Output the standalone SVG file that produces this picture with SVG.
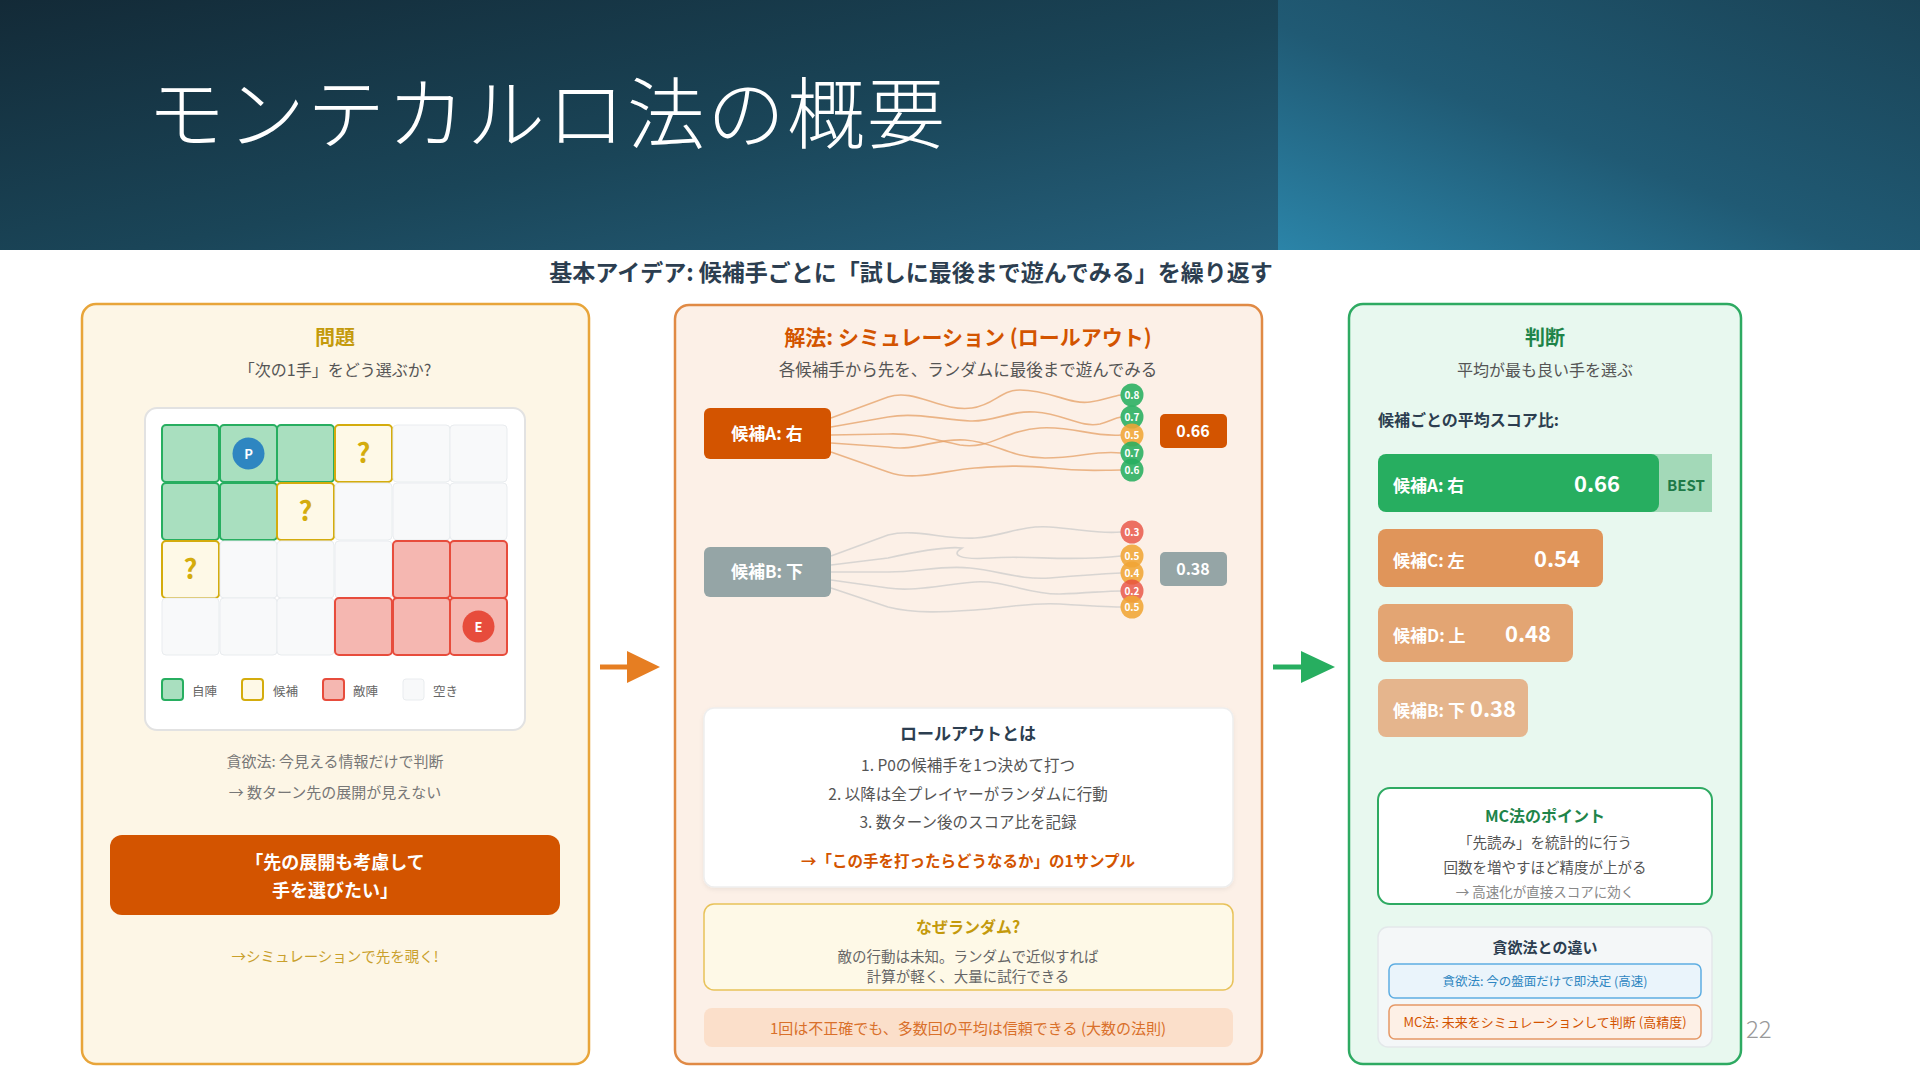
<svg xmlns="http://www.w3.org/2000/svg" width="1920" height="1080" viewBox="0 0 1920 1080">
<defs>
<linearGradient id="hdrL" x1="0" y1="0" x2="1" y2="1">
<stop offset="0" stop-color="#132a37"/>
<stop offset="0.55" stop-color="#1a4558"/>
<stop offset="1" stop-color="#25617d"/>
</linearGradient>
<linearGradient id="hdrR" x1="0" y1="1" x2="1" y2="0">
<stop offset="0" stop-color="#2b84a8"/>
<stop offset="0.45" stop-color="#205a74"/>
<stop offset="1" stop-color="#1a4356"/>
</linearGradient>
<filter id="sh" x="-5%" y="-5%" width="110%" height="115%">
<feDropShadow dx="0" dy="2" stdDeviation="2" flood-color="#000" flood-opacity="0.06"/>
</filter>
</defs>
<style>
text{font-family:"Noto Sans CJK JP","Noto Sans",sans-serif}
.c{text-anchor:middle}
.b{font-weight:700}
.g{fill:#555}
.wa{fill:none;stroke:#e6a066;stroke-width:1.6;opacity:.75}
.wb{fill:none;stroke:#c9c9c9;stroke-width:1.6;opacity:.7}
.ci{font-size:10px;font-weight:700;fill:#fff;text-anchor:middle}
.cg{fill:#27ae60;opacity:.88}
.co{fill:#f0a535;opacity:.88}
.cr{fill:#e74c3c;opacity:.78}
.own{fill:#a9dfbf;stroke:#27ae60;stroke-width:2}
.cand{fill:#fef9e7;stroke:#d4ac0d;stroke-width:2}
.enemy{fill:#f5b7b1;stroke:#e74c3c;stroke-width:2}
.empty{fill:#f8f9fa;stroke:#e9ecef;stroke-width:1}
.q{font-size:27px;font-weight:700;fill:#d4ac0d;text-anchor:middle}
.lg{font-size:12.5px;fill:#666}
.bl{font-size:17px;font-weight:700;fill:#fff}
.bv{font-size:22px;font-weight:700;fill:#fff;text-anchor:middle}
</style>

<rect x="0" y="0" width="1920" height="1080" fill="#ffffff"/>

<g id="header">
<rect x="0" y="0" width="1278" height="250" fill="url(#hdrL)"/>
<rect x="1278" y="0" width="642" height="250" fill="url(#hdrR)"/>
<text x="147" y="143" font-size="78" font-weight="300" fill="#ffffff" letter-spacing="2">モンテカルロ法の概要</text>
</g>

<text id="subtitle" x="911" y="281" class="c b" font-size="23" fill="#2c3e50">基本アイデア: 候補手ごとに「試しに最後まで遊んでみる」を繰り返す</text>

<g id="panel-problem">
<rect x="82" y="304" width="507" height="760" rx="14" fill="#fdf6e6" stroke="#e8a53a" stroke-width="2.5"/>
<text x="335" y="345" class="c b" font-size="20" fill="#c49a0c">問題</text>
<text x="335" y="376" class="c g" font-size="16">「次の1手」をどう選ぶか?</text>
<g id="board">
<rect x="145" y="408" width="380" height="322" rx="12" fill="#ffffff" stroke="#e2e2e2" stroke-width="2"/>
<rect x="162" y="425" width="57" height="57" rx="4" class="own"/>
<rect x="220" y="425" width="57" height="57" rx="4" class="own"/>
<rect x="277" y="425" width="57" height="57" rx="4" class="own"/>
<rect x="335" y="425" width="57" height="57" rx="4" class="cand"/>
<rect x="393" y="425" width="57" height="57" rx="4" class="empty"/>
<rect x="450" y="425" width="57" height="57" rx="4" class="empty"/>
<rect x="162" y="483" width="57" height="57" rx="4" class="own"/>
<rect x="220" y="483" width="57" height="57" rx="4" class="own"/>
<rect x="277" y="483" width="57" height="57" rx="4" class="cand"/>
<rect x="335" y="483" width="57" height="57" rx="4" class="empty"/>
<rect x="393" y="483" width="57" height="57" rx="4" class="empty"/>
<rect x="450" y="483" width="57" height="57" rx="4" class="empty"/>
<rect x="162" y="541" width="57" height="57" rx="4" class="cand"/>
<rect x="220" y="541" width="57" height="57" rx="4" class="empty"/>
<rect x="277" y="541" width="57" height="57" rx="4" class="empty"/>
<rect x="335" y="541" width="57" height="57" rx="4" class="empty"/>
<rect x="393" y="541" width="57" height="57" rx="4" class="enemy"/>
<rect x="450" y="541" width="57" height="57" rx="4" class="enemy"/>
<rect x="162" y="598" width="57" height="57" rx="4" class="empty"/>
<rect x="220" y="598" width="57" height="57" rx="4" class="empty"/>
<rect x="277" y="598" width="57" height="57" rx="4" class="empty"/>
<rect x="335" y="598" width="57" height="57" rx="4" class="enemy"/>
<rect x="393" y="598" width="57" height="57" rx="4" class="enemy"/>
<rect x="450" y="598" width="57" height="57" rx="4" class="enemy"/>
<text x="363.5" y="463" class="q">?</text>
<text x="305.5" y="521" class="q">?</text>
<text x="190.5" y="579" class="q">?</text>
<circle cx="248.5" cy="453.5" r="16" fill="#2e86c1"/>
<text x="248.5" y="458.5" class="c b" font-size="13" fill="#fff">P</text>
<circle cx="478.5" cy="626.5" r="16" fill="#e74c3c"/>
<text x="478.5" y="631.5" class="c b" font-size="13" fill="#fff">E</text>
<rect x="162" y="679" width="21" height="21" rx="3" class="own" stroke-width="1.5"/>
<text x="192" y="696" class="lg">自陣</text>
<rect x="242" y="679" width="21" height="21" rx="3" class="cand" stroke-width="1.5"/>
<text x="273" y="696" class="lg">候補</text>
<rect x="323" y="679" width="21" height="21" rx="3" class="enemy" stroke-width="1.5"/>
<text x="353" y="696" class="lg">敵陣</text>
<rect x="403" y="679" width="21" height="21" rx="3" class="empty"/>
<text x="433" y="696" class="lg">空き</text>
</g>
<text x="335" y="767" class="c" font-size="15" fill="#777">貪欲法: 今見える情報だけで判断</text>
<text x="335" y="798" class="c" font-size="15" fill="#777">→ 数ターン先の展開が見えない</text>
<rect x="110" y="835" width="450" height="80" rx="12" fill="#d35400"/>
<text x="335" y="869" class="c b" font-size="18" fill="#fff">「先の展開も考慮して</text>
<text x="335" y="897" class="c b" font-size="18" fill="#fff">手を選びたい」</text>
<text x="335" y="962" class="c" font-size="14.5" fill="#c9a02c">→シミュレーションで先を覗く!</text>
</g>

<g id="connectors">
<line x1="600" y1="667" x2="632" y2="667" stroke="#e67e22" stroke-width="5"/>
<polygon points="627,651 660,667 627,683" fill="#e67e22"/>
<line x1="1273" y1="667" x2="1305" y2="667" stroke="#27ae60" stroke-width="5"/>
<polygon points="1301,651 1335,667 1301,683" fill="#27ae60"/>
</g>

<g id="panel-solution">
<rect x="675" y="305" width="587" height="759" rx="14" fill="#fcf0e7" stroke="#e08a45" stroke-width="2.5"/>
<text x="968" y="345" class="c b" font-size="21" fill="#d35400">解法: シミュレーション (ロールアウト)</text>
<text x="968" y="376" class="c g" font-size="16.5">各候補手から先を、ランダムに最後まで遊んでみる</text>
<g id="rollout-A">
<path class="wa" d="M831,418 L888,397 C915,388 940,412 972,408 C995,405 1000,390 1020,390 C1050,390 1070,405 1090,402 C1105,400 1112,396 1121,395"/>
<path class="wa" d="M831,427 L888,417 C915,412 945,420 970,421 C995,422 1010,410 1035,412 C1065,414 1080,428 1100,424 C1110,421 1115,418 1121,417"/>
<path class="wa" d="M831,435 L888,434 C915,433 935,440 960,445 C990,450 1005,430 1040,428 C1075,426 1090,437 1121,435"/>
<path class="wa" d="M831,443 L888,447 C915,452 935,438 965,440 C995,442 1010,458 1045,458 C1080,458 1095,450 1121,453"/>
<path class="wa" d="M831,452 L888,472 C915,482 945,470 975,468 C1005,466 1020,465 1050,468 C1085,472 1100,470 1121,470"/>
<rect x="704" y="408" width="127" height="51" rx="6" fill="#d35400"/>
<text x="767" y="440" class="c b" font-size="17" fill="#fff">候補A: 右</text>
<circle cx="1132" cy="395" r="11.5" class="cg"/><text x="1132" y="399" class="ci">0.8</text>
<circle cx="1132" cy="417" r="11.5" class="cg"/><text x="1132" y="421" class="ci">0.7</text>
<circle cx="1132" cy="435" r="11.5" class="co"/><text x="1132" y="439" class="ci">0.5</text>
<circle cx="1132" cy="453" r="11.5" class="cg"/><text x="1132" y="457" class="ci">0.7</text>
<circle cx="1132" cy="470" r="11.5" class="cg"/><text x="1132" y="474" class="ci">0.6</text>
<rect x="1160" y="414" width="67" height="34" rx="5" fill="#d35400"/>
<text x="1193" y="437" class="c b" font-size="16" fill="#fff">0.66</text>
</g>
<g id="rollout-B">
<path class="wb" d="M831,556 L888,535 C915,528 945,540 975,538 C1005,536 1020,525 1050,527 C1085,530 1100,534 1121,532"/>
<path class="wb" d="M831,565 L888,558 C915,552 945,546 962,548 C950,555 960,560 990,558 C1030,555 1070,562 1121,556"/>
<path class="wb" d="M831,572 L888,572 C920,572 940,565 970,568 C1000,571 1020,580 1050,578 C1085,575 1100,574 1121,573"/>
<path class="wb" d="M831,580 L888,588 C915,592 945,584 975,582 C1005,580 1030,595 1060,594 C1090,593 1105,591 1121,591"/>
<path class="wb" d="M831,588 L888,607 C915,614 945,612 975,610 C1005,608 1030,602 1060,604 C1090,606 1105,607 1121,607"/>
<rect x="704" y="547" width="127" height="50" rx="6" fill="#95a5a6"/>
<text x="767" y="578" class="c b" font-size="17" fill="#fff">候補B: 下</text>
<circle cx="1132" cy="532" r="11.5" class="cr"/><text x="1132" y="536" class="ci">0.3</text>
<circle cx="1132" cy="556" r="11.5" class="co"/><text x="1132" y="560" class="ci">0.5</text>
<circle cx="1132" cy="573" r="11.5" class="co"/><text x="1132" y="577" class="ci">0.4</text>
<circle cx="1132" cy="591" r="11.5" class="cr"/><text x="1132" y="595" class="ci">0.2</text>
<circle cx="1132" cy="607" r="11.5" class="co"/><text x="1132" y="611" class="ci">0.5</text>
<rect x="1160" y="552" width="67" height="34" rx="5" fill="#95a5a6"/>
<text x="1193" y="575" class="c b" font-size="16" fill="#fff">0.38</text>
</g>
<g id="rollout-def">
<rect x="704" y="708" width="529" height="179" rx="10" fill="#ffffff" stroke="#eeeeee" stroke-width="1.5" filter="url(#sh)"/>
<text x="968" y="740" class="c b" font-size="17" fill="#2c3e50">ロールアウトとは</text>
<text x="968" y="771" class="c g" font-size="15.5">1. P0の候補手を1つ決めて打つ</text>
<text x="968" y="800" class="c g" font-size="15.5">2. 以降は全プレイヤーがランダムに行動</text>
<text x="968" y="828" class="c g" font-size="15.5">3. 数ターン後のスコア比を記録</text>
<text x="968" y="867" class="c b" font-size="15.5" fill="#d35400">→「この手を打ったらどうなるか」の1サンプル</text>
</g>
<g id="why-random">
<rect x="704" y="904" width="529" height="86" rx="10" fill="#fef9e7" stroke="#e8c25a" stroke-width="1.5"/>
<text x="968" y="933" class="c b" font-size="16" fill="#c49a0c">なぜランダム?</text>
<text x="968" y="962" class="c" font-size="14.5" fill="#666">敵の行動は未知。ランダムで近似すれば</text>
<text x="968" y="982" class="c" font-size="14.5" fill="#666">計算が軽く、大量に試行できる</text>
</g>
<g id="law">
<rect x="704" y="1008" width="529" height="39" rx="8" fill="#fbdfca"/>
<text x="968" y="1034" class="c" font-size="15" fill="#d9702a">1回は不正確でも、多数回の平均は信頼できる (大数の法則)</text>
</g>
</g>

<g id="panel-judge">
<rect x="1349" y="304" width="392" height="760" rx="14" fill="#e8f8ef" stroke="#2eaa62" stroke-width="2.5"/>
<text x="1545" y="345" class="c b" font-size="20" fill="#1e8449">判断</text>
<text x="1545" y="376" class="c g" font-size="16">平均が最も良い手を選ぶ</text>
<text x="1378" y="426" class="b" font-size="16" fill="#2c3e50">候補ごとの平均スコア比:</text>
<g id="bar-A">
<rect x="1640" y="454" width="72" height="58" fill="#a3d9b8"/>
<rect x="1378" y="454" width="281" height="58" rx="8" fill="#27ae60"/>
<text x="1393" y="492" class="bl">候補A: 右</text>
<text x="1597" y="492" class="bv">0.66</text>
<text x="1686" y="491" class="c b" font-size="15" fill="#1e7a48">BEST</text>
</g>
<g id="bar-C">
<rect x="1378" y="529" width="225" height="58" rx="8" fill="#e0955a"/>
<text x="1393" y="567" class="bl">候補C: 左</text>
<text x="1557" y="567" class="bv">0.54</text>
</g>
<g id="bar-D">
<rect x="1378" y="604" width="195" height="58" rx="8" fill="#e3a573"/>
<text x="1393" y="642" class="bl">候補D: 上</text>
<text x="1528" y="642" class="bv">0.48</text>
</g>
<g id="bar-B">
<rect x="1378" y="679" width="150" height="58" rx="8" fill="#e5b58d"/>
<text x="1393" y="717" class="bl">候補B: 下</text>
<text x="1493" y="717" class="bv">0.38</text>
</g>
<g id="mc-point">
<rect x="1378" y="788" width="334" height="116" rx="12" fill="#ffffff" stroke="#2eaa62" stroke-width="2"/>
<text x="1545" y="822" class="c b" font-size="16" fill="#1e8449">MC法のポイント</text>
<text x="1545" y="848" class="c g" font-size="14.5">「先読み」を統計的に行う</text>
<text x="1545" y="873" class="c g" font-size="14.5">回数を増やすほど精度が上がる</text>
<text x="1545" y="897" class="c" font-size="13.5" fill="#888">→ 高速化が直接スコアに効く</text>
</g>
<g id="greedy-diff">
<rect x="1378" y="927" width="334" height="120" rx="10" fill="#f4f7f8" stroke="#e3e8ea" stroke-width="1.5"/>
<text x="1545" y="953" class="c b" font-size="15" fill="#2c3e50">貪欲法との違い</text>
<rect x="1389" y="964" width="312" height="34" rx="6" fill="#eaf4fb" stroke="#5dade2" stroke-width="1.5"/>
<text x="1545" y="986" class="c" font-size="12.5" fill="#2e86c1">貪欲法: 今の盤面だけで即決定 (高速)</text>
<rect x="1389" y="1005" width="312" height="34" rx="6" fill="#fdf0e6" stroke="#e59866" stroke-width="1.5"/>
<text x="1545" y="1027" class="c" font-size="13" fill="#d35400">MC法: 未来をシミュレーションして判断 (高精度)</text>
</g>
</g>

<text id="page-number" x="1746" y="1038" font-size="24" font-weight="300" fill="#999">22</text>
</svg>
